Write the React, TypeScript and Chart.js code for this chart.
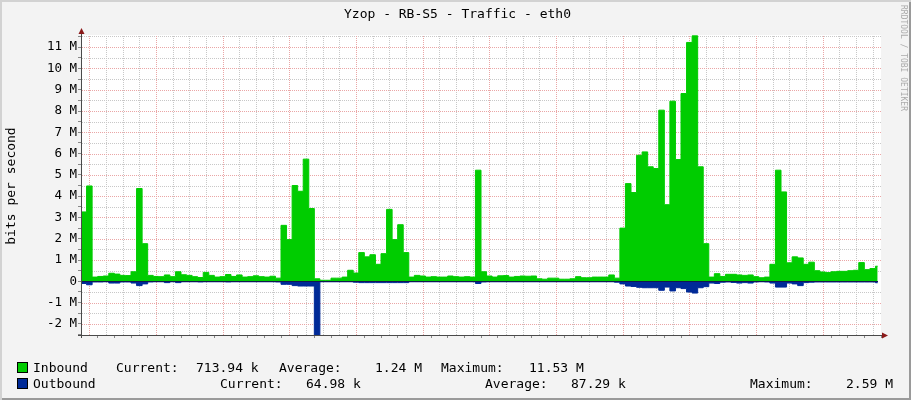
import React, { useEffect, useRef } from "react";
import { Chart, registerables } from "chart.js";

Chart.register(...registerables);

// ---- data (minutes relative to 18:00 of the first day; values in Mbit/s) ----
const FIRST_BIN_MIN = -15; // 17:45
const BIN_MIN = 10;
const DATA_END_MIN = 1419;
const X_MIN = -15;
const X_MAX = 1425;
const Y_MIN = -2.52;
const Y_MAX = 11.57;
const X_MINOR_STEP = 30;
const X_MAJOR_STEP = 120;
const Y_MINOR_STEP = 0.5;

const inboundMbps = [
  3.26, 4.48, 0.2, 0.23, 0.25, 0.38, 0.34, 0.28, 0.27, 0.45,
  4.36, 1.77, 0.28, 0.23, 0.22, 0.3, 0.22, 0.45, 0.31, 0.28,
  0.22, 0.18, 0.42, 0.28, 0.2, 0.22, 0.32, 0.23, 0.3, 0.2,
  0.22, 0.26, 0.22, 0.2, 0.24, 0.15, 2.63, 1.96, 4.5, 4.23,
  5.74, 3.42, 0.12, 0.05, 0.05, 0.15, 0.15, 0.2, 0.52, 0.39,
  1.35, 1.15, 1.25, 0.8, 1.3, 3.38, 1.96, 2.66, 1.35, 0.2,
  0.28, 0.25, 0.2, 0.22, 0.2, 0.2, 0.25, 0.22, 0.2, 0.22,
  0.2, 5.22, 0.45, 0.25, 0.2, 0.26, 0.27, 0.2, 0.23, 0.25,
  0.24, 0.25, 0.12, 0.1, 0.15, 0.15, 0.1, 0.1, 0.12, 0.22,
  0.17, 0.17, 0.2, 0.2, 0.2, 0.3, 0.15, 2.5, 4.59, 4.17,
  5.92, 6.08, 5.38, 5.3, 8.04, 3.6, 8.46, 5.72, 8.82, 11.22,
  11.53, 5.38, 1.77, 0.2, 0.36, 0.23, 0.33, 0.33, 0.3, 0.28,
  0.3, 0.22, 0.17, 0.2, 0.8, 5.22, 4.2, 0.87, 1.15, 1.1,
  0.8, 0.9, 0.5, 0.44, 0.41, 0.45, 0.47, 0.47, 0.5, 0.52,
  0.88, 0.55, 0.6, 0.71,
];

const outboundMbps = [
  0.1, 0.16, 0.03, 0.03, 0.02, 0.08, 0.08, 0.03, 0.03, 0.08,
  0.2, 0.12, 0.03, 0.02, 0.02, 0.06, 0.02, 0.06, 0.02, 0.02,
  0.02, 0.03, 0.02, 0.02, 0.02, 0.02, 0.03, 0.02, 0.02, 0.02,
  0.02, 0.02, 0.02, 0.02, 0.02, 0.03, 0.14, 0.14, 0.2, 0.22,
  0.22, 0.22, 2.59, 0.02, 0.02, 0.02, 0.02, 0.02, 0.02, 0.04,
  0.06, 0.06, 0.06, 0.06, 0.06, 0.06, 0.06, 0.06, 0.06, 0.02,
  0.02, 0.02, 0.02, 0.02, 0.02, 0.02, 0.02, 0.02, 0.02, 0.02,
  0.02, 0.1, 0.03, 0.02, 0.02, 0.02, 0.02, 0.02, 0.02, 0.02,
  0.02, 0.02, 0.02, 0.02, 0.02, 0.02, 0.02, 0.02, 0.02, 0.02,
  0.02, 0.02, 0.02, 0.02, 0.02, 0.02, 0.04, 0.12, 0.22, 0.24,
  0.28, 0.3, 0.3, 0.3, 0.42, 0.27, 0.45, 0.3, 0.34, 0.5,
  0.55, 0.3, 0.25, 0.08, 0.1, 0.04, 0.03, 0.05, 0.08, 0.06,
  0.08, 0.03, 0.02, 0.03, 0.08, 0.27, 0.27, 0.08, 0.12, 0.2,
  0.06, 0.04, 0.03, 0.03, 0.03, 0.03, 0.03, 0.03, 0.03, 0.03,
  0.03, 0.03, 0.03, 0.065,
];

const TITLE = "Yzop - RB-S5 - Traffic - eth0";
const Y_TITLE = "bits per second";
const WATERMARK = "RRDTOOL / TOBI OETIKER";
const seriesNames = ["Inbound", "Outbound"];
const statLabels = ["Current:", "Average:", "Maximum:"];
const inboundStats = ["713.94 k", "1.24 M", "11.53 M"];
const outboundStats = ["64.98 k", "87.29 k", "2.59 M"];

// ---- styles ----
const FONT = "'DejaVu Sans Mono', monospace";
const IN_COLOR = "#00CC00";
const OUT_COLOR = "#002A97";
const MGRID = "#eaa6a6";
const GRID = "#c8c8c8";
const AXIS = "#4a4a4a";
const ARROW = "#8b1a1a";

const buildPoints = (vals: number[], sign: number) => {
  const pts = vals.map((v, i) => ({ x: FIRST_BIN_MIN + i * BIN_MIN, y: sign * v }));
  pts.push({ x: DATA_END_MIN, y: sign * vals[vals.length - 1] });
  return pts;
};

const hourLabel = (v: number) => {
  const h = (((18 + v / 60) % 24) + 24) % 24;
  return String(h).padStart(2, "0") + ":00";
};

const isInt = (v: number) => Math.abs(v - Math.round(v)) < 1e-9;

const decor = {
  id: "rrdDecor",
  beforeDatasetsDraw(chart: any) {
    const { ctx, chartArea: a, scales } = chart;
    const xs = scales.x;
    const ys = scales.y;
    const L = Math.round(a.left);
    const R = Math.round(a.right);
    const T = Math.round(a.top);
    const B = Math.round(a.bottom);
    ctx.save();
    ctx.fillStyle = "#ffffff";
    ctx.fillRect(a.left, a.top, a.right - a.left, a.bottom - a.top);

    const xVals: number[] = [];
    for (let m = Math.ceil(X_MIN / X_MINOR_STEP) * X_MINOR_STEP; m <= X_MAX; m += X_MINOR_STEP) {
      if (m > X_MIN) xVals.push(m);
    }
    const yVals: number[] = [];
    for (let k = Math.ceil(Y_MIN / Y_MINOR_STEP); k * Y_MINOR_STEP <= Y_MAX; k++) {
      yVals.push(k * Y_MINOR_STEP);
    }

    const vDots = (v: number, color: string) => {
      const px = Math.round(xs.getPixelForValue(v));
      ctx.fillStyle = color;
      for (let y = T + 1; y < B; y += 2) ctx.fillRect(px, y, 1, 1);
    };
    const hDots = (v: number, color: string) => {
      const py = Math.round(ys.getPixelForValue(v));
      ctx.fillStyle = color;
      for (let x = L + 1; x < R; x += 2) ctx.fillRect(x, py, 1, 1);
    };
    xVals.forEach((m) => {
      if (m % X_MAJOR_STEP !== 0) vDots(m, GRID);
    });
    yVals.forEach((v) => {
      if (!isInt(v)) hDots(v, GRID);
    });
    xVals.forEach((m) => {
      if (m % X_MAJOR_STEP === 0) vDots(m, MGRID);
    });
    yVals.forEach((v) => {
      if (isInt(v) && Math.abs(v) > 1e-9) hDots(v, MGRID);
    });
    ctx.restore();
  },
  afterDatasetsDraw(chart: any) {
    const { ctx, chartArea: a, scales } = chart;
    const y0 = Math.round(scales.y.getPixelForValue(0));
    const x0 = Math.round(a.left);
    const yb = Math.round(a.bottom);
    const xEnd = Math.round(scales.x.getPixelForValue(DATA_END_MIN));
    ctx.save();
    ctx.fillStyle = "#10194f";
    ctx.fillRect(x0, y0, xEnd - x0, 1);
    ctx.fillStyle = AXIS;
    ctx.fillRect(x0, Math.round(a.top) - 2, 1, yb - Math.round(a.top) + 5);
    ctx.fillRect(x0 - 3, yb, Math.round(a.right) - x0 + 5, 1);
    ctx.fillStyle = ARROW;
    ctx.beginPath();
    ctx.moveTo(x0 - 2.5, a.top - 1);
    ctx.lineTo(x0 + 3.5, a.top - 1);
    ctx.lineTo(x0 + 0.5, a.top - 7);
    ctx.closePath();
    ctx.fill();
    ctx.beginPath();
    ctx.moveTo(a.right + 1, yb - 2.5);
    ctx.lineTo(a.right + 1, yb + 3.5);
    ctx.lineTo(a.right + 7, yb + 0.5);
    ctx.closePath();
    ctx.fill();
    ctx.restore();
  },
};

export default function App() {
  const ref = useRef<HTMLCanvasElement | null>(null);

  useEffect(() => {
    if (!ref.current) return;
    const chart = new Chart(ref.current, {
      type: "line",
      data: {
        datasets: [
          {
            label: seriesNames[0],
            data: buildPoints(inboundMbps, 1),
            stepped: true,
            fill: "origin",
            backgroundColor: IN_COLOR,
            borderColor: IN_COLOR,
            borderWidth: 1,
            pointRadius: 0,
          },
          {
            label: seriesNames[1],
            data: buildPoints(outboundMbps, -1),
            stepped: true,
            fill: "origin",
            backgroundColor: OUT_COLOR,
            borderColor: OUT_COLOR,
            borderWidth: 1,
            pointRadius: 0,
          },
        ],
      },
      options: {
        animation: false,
        responsive: false,
        maintainAspectRatio: false,
        events: [],
        layout: { padding: { top: 35, right: 30, left: 0, bottom: 0 } },
        plugins: {
          legend: { display: false },
          title: { display: false },
          tooltip: { enabled: false },
        },
        scales: {
          x: {
            type: "linear",
            min: X_MIN,
            max: X_MAX,
            afterFit: (s: any) => {
              s.height = 65;
            },
            ticks: {
              stepSize: X_MINOR_STEP,
              includeBounds: false,
              autoSkip: false,
              maxRotation: 0,
              minRotation: 0,
              padding: 2,
              color: "#000",
              font: { family: FONT, size: 12.5 },
              callback: (v: any) => (Number(v) % X_MAJOR_STEP === 0 ? hourLabel(Number(v)) : ""),
            },
            grid: {
              drawOnChartArea: false,
              drawTicks: true,
              color: "#888",
              tickColor: "#888",
              tickLength: 3,
              lineWidth: 1,
            },
            border: { display: false },
          },
          y: {
            type: "linear",
            min: Y_MIN,
            max: Y_MAX,
            afterFit: (s: any) => {
              s.width = 81;
            },
            ticks: {
              stepSize: Y_MINOR_STEP,
              includeBounds: false,
              autoSkip: false,
              padding: 1,
              color: "#000",
              font: { family: FONT, size: 12.5 },
              callback: (v: any) => {
                const n = Number(v);
                if (!isInt(n)) return "";
                return Math.abs(n) < 1e-9 ? "0" : `${Math.round(n)} M`;
              },
            },
            grid: {
              drawOnChartArea: false,
              drawTicks: true,
              color: "#888",
              tickColor: "#888",
              tickLength: 3,
              lineWidth: 1,
            },
            border: { display: false },
          },
        },
      },
      plugins: [decor],
    } as any);
    return () => chart.destroy();
  }, []);

  const textBase: React.CSSProperties = {
    position: "absolute",
    fontFamily: FONT,
    fontSize: 13,
    lineHeight: "13px",
    whiteSpace: "pre",
    color: "#000",
  };

  const row1Labels = [116, 279, 441];
  const row1Values = [196, 375, 529];
  const row2Labels = [220, 485, 750];
  const row2Values = [306, 571, 846];
  const rows = [
    { top: 361, color: IN_COLOR, stats: inboundStats, lx: row1Labels, vx: row1Values },
    { top: 377, color: OUT_COLOR, stats: outboundStats, lx: row2Labels, vx: row2Values },
  ];

  return (
    <div
      style={{
        position: "absolute",
        left: 0,
        top: 0,
        width: 911,
        height: 400,
        background: "#f3f3f3",
        boxShadow: "inset 2px 2px 0 #d2d2d2, inset -2px -2px 0 #9a9a9a",
        overflow: "hidden",
      }}
    >
      <canvas
        ref={ref}
        width={911}
        height={400}
        style={{ position: "absolute", left: 0, top: 0, width: 911, height: 400 }}
      />
      <div style={{ ...textBase, left: 0, width: 911, top: 7, textAlign: "center", paddingLeft: 2 }}>
        {TITLE}
      </div>
      <div
        style={{
          ...textBase,
          left: 10,
          top: 186,
          transform: "translate(-50%, -50%) rotate(-90deg)",
        }}
      >
        {Y_TITLE}
      </div>
      <div
        style={{
          ...textBase,
          left: 899,
          top: 5,
          fontSize: 8,
          lineHeight: "9px",
          color: "#ababab",
          writingMode: "vertical-rl",
        }}
      >
        {WATERMARK}
      </div>
      {rows.map((r, ri) => (
        <React.Fragment key={ri}>
          <div
            style={{
              position: "absolute",
              left: 17,
              top: r.top + 1,
              width: 9,
              height: 9,
              background: r.color,
              border: "1px solid #000",
            }}
          />
          <div style={{ ...textBase, left: 33, top: r.top }}>{seriesNames[ri]}</div>
          {statLabels.map((lab, i) => (
            <React.Fragment key={i}>
              <div style={{ ...textBase, left: r.lx[i], top: r.top }}>{lab}</div>
              <div style={{ ...textBase, left: r.vx[i], top: r.top }}>{r.stats[i]}</div>
            </React.Fragment>
          ))}
        </React.Fragment>
      ))}
    </div>
  );
}
